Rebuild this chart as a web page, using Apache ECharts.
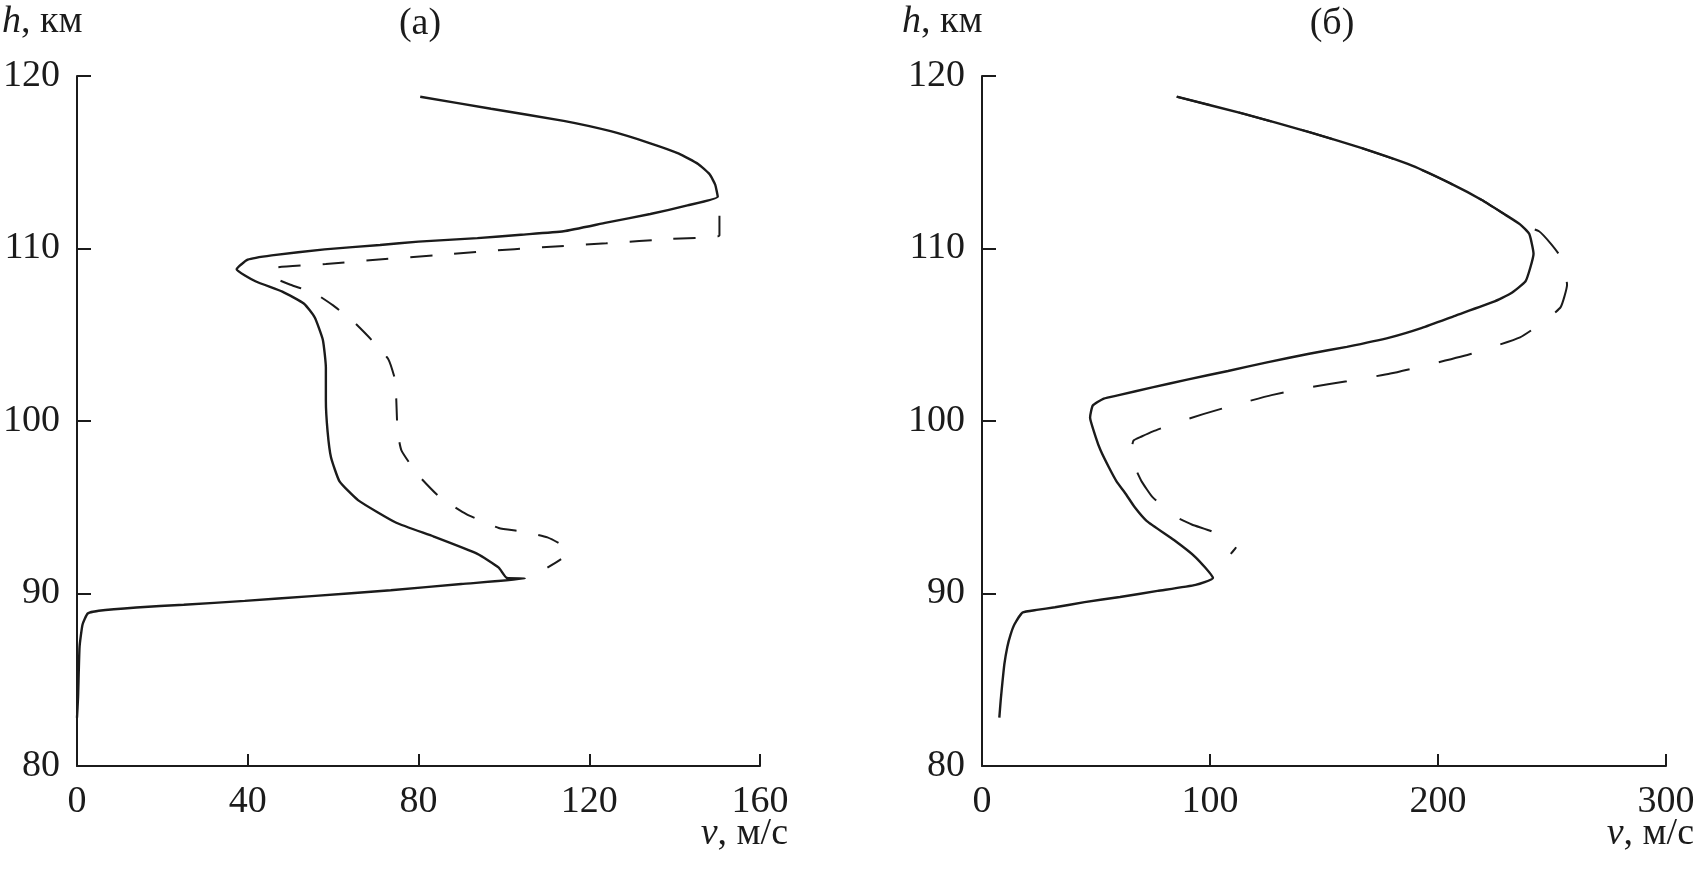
<!DOCTYPE html>
<html>
<head>
<meta charset="utf-8">
<script src="https://cdn.jsdelivr.net/npm/echarts@6/dist/echarts.min.js"></script>
<style>
html,body{margin:0;padding:0;background:#fff;}
#c{width:1698px;height:874px;}
</style>
</head>
<body>
<div id="c"></div>
<script>
// ---- data: [v (м/с), h (км)] ----
const panelA_solid = [[80.4,118.8],[97,118.1],[114,117.4],[125,116.8],[134.3,116.1],[141,115.5],[145.5,114.9],[148.2,114.3],[149.5,113.7],[150.1,113.0],[143,112.5],[134.3,112.0],[124,111.5],[114,111.0],[104,110.8],[93.8,110.6],[80,110.4],[71,110.2],[58,109.95],[45.6,109.6],[40,109.35],[37.4,108.8],[41.8,108.1],[48.1,107.5],[53.2,106.8],[55.7,106.0],[57.6,104.7],[58.3,103.1],[58.3,101.2],[58.7,99.4],[59.5,97.9],[61.5,96.5],[65.9,95.4],[74.8,94.1],[83.6,93.3],[93.8,92.3],[98.8,91.5],[100.7,90.9],[104.9,90.87],[90,90.55],[73.5,90.19],[55,89.85],[39.3,89.57],[25,89.35],[13.9,89.19],[5.1,89.0],[2.5,88.84],[1.3,88.2],[0.6,86.9],[0.25,84],[0,82.8]];
const panelA_dashed = [[150.5,111.9],[150.5,110.75],[139.4,110.56],[124,110.3],[109,110.07],[96,109.85],[83.6,109.6],[70,109.35],[58.3,109.1],[46.9,108.9],[45.6,108.6],[46.2,108.3],[50,107.9],[55.7,107.4],[60,106.7],[64.6,105.8],[69,104.7],[72.9,103.6],[74.5,102.4],[74.8,101.2],[75.1,99.4],[76,98.3],[79.8,96.9],[84.9,95.6],[91.2,94.6],[98.8,93.8],[103.9,93.6],[110.2,93.25],[114.6,92.6],[114,92.1],[110.2,91.5]];
const panelB_solid = [[85.4,118.8],[115,117.8],[143.5,116.75],[167,115.8],[188.6,114.8],[205,113.8],[219.4,112.8],[229,112],[236,111.4],[240,110.85],[241.9,109.7],[240.5,108.9],[238.4,108.1],[232,107.4],[224.2,106.9],[207.5,106.1],[193,105.4],[179.1,104.85],[160,104.3],[143.5,103.9],[125,103.4],[107.9,102.9],[90,102.4],[74.7,101.95],[60,101.5],[53.4,101.3],[48.6,100.9],[47.4,100.2],[49.8,99.1],[52,98.3],[55.7,97.3],[59,96.5],[62.9,95.8],[67,95],[72.3,94.2],[84.2,93.1],[93.7,92.1],[101.3,90.9],[93.7,90.5],[77,90.15],[60.5,89.8],[45,89.5],[32,89.2],[24,89.05],[17.8,88.9],[14.2,88.2],[12.5,87.6],[11.1,86.9],[9.8,85.9],[9,84.9],[8.2,83.8],[7.6,82.8]];
const panelB_dashed = [[85.4,118.8],[115,117.8],[143.5,116.75],[167,115.8],[188.6,114.8],[205,113.8],[219.4,112.8],[229,112],[236,111.4],[244.3,111.0],[250,110.2],[253.8,109.5],[256.6,107.9],[253.8,106.6],[246.7,105.8],[236,104.85],[214.7,103.9],[197,103.3],[179.1,102.75],[160,102.3],[143.5,101.95],[127,101.5],[112.7,101.0],[97,100.4],[84.2,99.85],[75,99.4],[70,99.1],[66.4,98.86],[65.2,97.9],[66.4,97.5],[70,96.5],[74.7,95.6],[84.2,94.5],[92,94.0],[100.8,93.6],[107,93.1],[111.5,92.7],[109.1,92.3]];
const panelTitles = ['(а)', '(б)'];
const yTicks = {min: 80, max: 120, interval: 10};
const xTicksA = {min: 0, max: 160, interval: 40};
const xTicksB = {min: 0, max: 300, interval: 100};

const FONT = 'Liberation Serif';
const INK = '#1b1b1b';
const chart = echarts.init(document.getElementById('c'), null, {renderer: 'canvas'});

function xAxis(idx, t) {
  return {
    type: 'value', gridIndex: idx, min: t.min, max: t.max, interval: t.interval,
    axisLine: {show: true, onZero: false, lineStyle: {color: INK, width: 2}},
    axisTick: {show: true, inside: true, length: 12, lineStyle: {color: INK, width: 2}},
    axisLabel: {margin: 17, fontFamily: FONT, fontSize: 38, color: INK},
    splitLine: {show: false}
  };
}
function yAxis(idx) {
  return {
    type: 'value', gridIndex: idx, min: yTicks.min, max: yTicks.max, interval: yTicks.interval,
    axisLine: {show: true, onZero: false, lineStyle: {color: INK, width: 2}},
    axisTick: {show: true, inside: true, length: 14, lineStyle: {color: INK, width: 2}},
    axisLabel: {margin: 17, fontFamily: FONT, fontSize: 38, color: INK},
    splitLine: {show: false}
  };
}
function line(data, xi, dash) {
  return {
    type: 'line', xAxisIndex: xi, yAxisIndex: xi, data: data, symbol: 'none', smooth: 0.15,
    lineStyle: {color: INK, width: dash ? 2 : 2.4, type: dash ? dash : 'solid'},
    z: dash ? 3 : 2
  };
}
function txt(x, y, text, align) {
  return {
    type: 'text', x: x, y: y,
    style: {
      text: text, fontFamily: FONT, fontSize: 38, fill: INK,
      textAlign: align, textVerticalAlign: 'middle',
      rich: {i: {fontStyle: 'italic', fontFamily: FONT, fontSize: 38, fill: INK}}
    }
  };
}

chart.setOption({
  animation: false,
  backgroundColor: '#fff',
  grid: [
    {left: 75, top: 76, width: 685, height: 690},
    {left: 982, top: 76, width: 684, height: 690}
  ],
  xAxis: [xAxis(0, xTicksA), xAxis(1, xTicksB)],
  yAxis: [yAxis(0), yAxis(1)],
  series: [
    line(panelA_solid, 0, null), line(panelA_dashed, 0, [22, 22]),
    line(panelB_solid, 1, null), line(panelB_dashed, 1, [34, 30])
  ],
  graphic: [
    txt(2, 22, '{i|h}, км', 'left'),
    txt(902, 22, '{i|h}, км', 'left'),
    txt(420, 24, panelTitles[0], 'center'),
    txt(1332, 24, panelTitles[1], 'center'),
    txt(788, 834, '{i|v}, м/с', 'right'),
    txt(1694, 834, '{i|v}, м/с', 'right')
  ]
});
</script>
</body>
</html>
